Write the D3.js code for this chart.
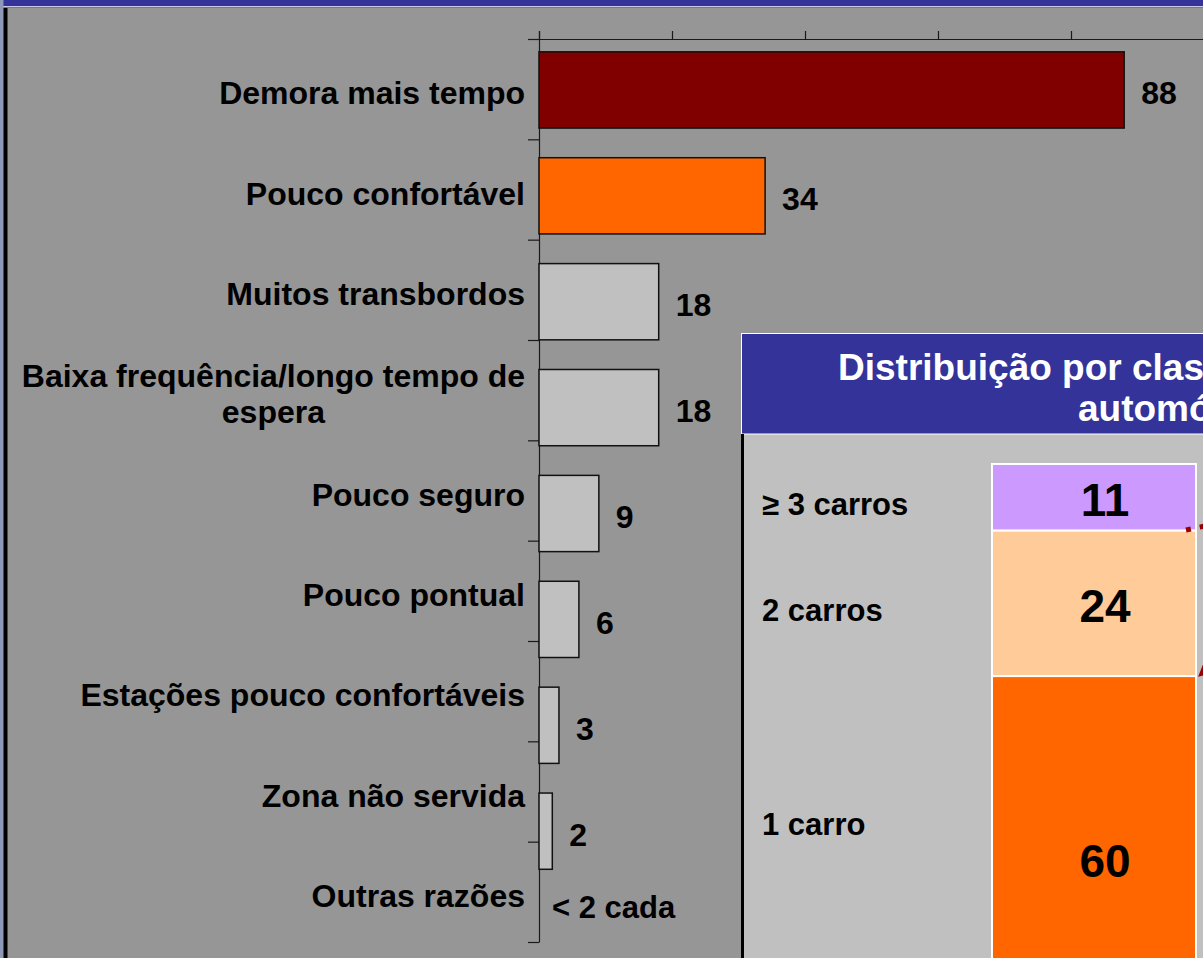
<!DOCTYPE html>
<html><head><meta charset="utf-8">
<script src="https://cdn.jsdelivr.net/npm/d3@7"></script>
<style>html,body{margin:0;padding:0;background:#969696;overflow:hidden} svg{display:block}</style>
</head><body><svg id="c" width="1203" height="958"></svg>
<script>
// ---- data ----
const categories = ["Demora mais tempo","Pouco confortável","Muitos transbordos","Baixa frequência/longo tempo de\nespera","Pouco seguro","Pouco pontual","Estações pouco confortáveis","Zona não servida","Outras razões"];
const values = [88,34,18,18,9,6,3,2,null];
const otherNote = "< 2 cada";
const barColors = ["#800000","#ff6600","#c0c0c0","#c0c0c0","#c0c0c0","#c0c0c0","#c0c0c0","#c0c0c0","#c0c0c0"];
const xTicks = [0,20,40,60,80,100];
const insetTitle = ["Distribuição por classe de posse de","automóvel"];
const carClasses = ["≥ 3 carros","2 carros","1 carro"];
const carShares = [11,24,60];
const carColors = ["#cc99ff","#ffcc99","#ff6600"];

const W = 1203, H = 958;
const FONT = "'Liberation Sans', Arial, Helvetica, sans-serif";
const svg = d3.select("#c");

// background frame
svg.append("rect").attr("x",0).attr("y",0).attr("width",W).attr("height",H).attr("fill","#969696");
svg.append("rect").attr("x",0).attr("y",0).attr("width",W).attr("height",6).attr("fill","#333399");
svg.append("line").attr("x1",0).attr("x2",W).attr("y1",6.5).attr("y2",6.5).attr("stroke","#c9cbe6").attr("stroke-width",1);
svg.append("line").attr("x1",0).attr("x2",W).attr("y1",7.5).attr("y2",7.5).attr("stroke","#7a7a7a").attr("stroke-width",1);
svg.append("rect").attr("x",0).attr("y",0).attr("width",3.5).attr("height",H).attr("fill","#8e99b8");
svg.append("rect").attr("x",3.5).attr("y",8).attr("width",4).attr("height",H-8).attr("fill","#000");

// ---- scales ----
const x = d3.scaleLinear().domain([0,100]).range([539,1204]);
const yLab = d3.scaleBand().domain(categories).range([39,942]);
const yBar = d3.scaleBand().domain(categories).range([37,990]).paddingInner(0.28).paddingOuter(0.14);
const yTick = d3.scaleLinear().domain([0,categories.length]).range([39,942]);

// axes
const gx = svg.append("g").attr("transform","translate(0,39)")
  .call(d3.axisTop(x).tickValues(xTicks).tickSize(8).tickFormat(""));
const gy = svg.append("g").attr("transform","translate(539,0)")
  .call(d3.axisLeft(yTick).tickValues(d3.range(categories.length+1)).tickSize(11).tickSizeOuter(0).tickFormat(""));
[gx,gy].forEach(g=>{ g.selectAll("path,line").attr("stroke","#1a1a1a").attr("stroke-width",1.2); g.select(".domain").attr("fill","none"); });

// bars
const data = categories.map((c,i)=>({c, v: values[i], color: barColors[i]}));
svg.append("g").selectAll("rect").data(data.filter(d=>d.v!=null)).join("rect")
  .attr("x", x(0)).attr("y", d=>yBar(d.c))
  .attr("width", d=>x(d.v)-x(0)).attr("height", yBar.bandwidth())
  .attr("fill", d=>d.color).attr("stroke","#111").attr("stroke-width",1.5);

// value labels
svg.append("g").selectAll("text").data(data.filter(d=>d.v!=null)).join("text")
  .attr("x", d=>x(d.v)+17).attr("y", d=>yBar(d.c)+yBar.bandwidth()/2+14.5)
  .attr("font-family",FONT).attr("font-weight","bold").attr("font-size",32).attr("fill","#000")
  .text(d=>d.v);
data.filter(d=>d.v==null).forEach(d=>{
  svg.append("text").attr("x", x(0)+13).attr("y", yLab(d.c)+yLab.bandwidth()/2+26)
    .attr("font-family",FONT).attr("font-weight","bold").attr("font-size",31).attr("fill","#000")
    .text(otherNote);
});

// category labels
const RIGHT = 525;
categories.forEach(c=>{
  const lines = c.split("\n");
  const bc = yLab(c)+yLab.bandwidth()/2;
  const t = svg.append("text").attr("font-family",FONT).attr("font-weight","bold").attr("font-size",32).attr("fill","#000");
  const spans = lines.map((l,i)=> t.append("tspan").attr("y", bc+15+(i-(lines.length-1)/2)*36).text(l));
  if (lines.length>1){
    const maxW = d3.max(spans, s=>s.node().getComputedTextLength());
    t.attr("text-anchor","middle");
    spans.forEach(s=>s.attr("x", RIGHT-maxW/2));
  } else {
    t.attr("text-anchor","end");
    spans.forEach(s=>s.attr("x", RIGHT));
  }
});

// ---- inset panel ----
const inset = svg.append("g");
inset.append("rect").attr("x",742).attr("y",434).attr("width",600).attr("height",600).attr("fill","#c0c0c0");
inset.append("rect").attr("x",741.5).attr("y",333.5).attr("width",600).attr("height",100.5).attr("fill","#333399").attr("stroke","#fff").attr("stroke-width",1);
inset.append("line").attr("x1",742.5).attr("x2",742.5).attr("y1",434).attr("y2",H).attr("stroke","#000").attr("stroke-width",3);
const titleX = [838,1078];
insetTitle.forEach((l,i)=>{
  inset.append("text").attr("x",titleX[i]).attr("y",380+i*41)
    .attr("font-family",FONT).attr("font-weight","bold").attr("font-size",37).attr("fill","#fff").text(l);
});

const yc = d3.scaleLinear().domain([0,100]).range([464,1070]);
const ends = d3.cumsum(carShares);
const segs = carShares.map((v,i)=>({name: carClasses[i], v, y0: ends[i]-v, y1: ends[i], color: carColors[i]}));
inset.append("g").selectAll("rect").data(segs).join("rect")
  .attr("x",992).attr("width",204)
  .attr("y", d=>yc(d.y0)).attr("height", d=>yc(d.y1)-yc(d.y0))
  .attr("fill", d=>d.color).attr("stroke","#fff").attr("stroke-width",2);
inset.append("g").selectAll("text").data(segs).join("text")
  .attr("x",1105).attr("y", d=>(yc(d.y0)+yc(d.y1))/2+19)
  .attr("text-anchor","middle").attr("font-family",FONT).attr("font-weight","bold").attr("font-size",46).attr("fill","#000")
  .text(d=>d.v);
inset.append("g").selectAll("text").data(segs).join("text")
  .attr("x",762).attr("y", d=>(yc(d.y0)+Math.min(yc(d.y1),H))/2+18)
  .attr("font-family",FONT).attr("font-weight","bold").attr("font-size",31).attr("fill","#000")
  .text(d=>d.name);

// dotted connectors (red) leaving the panel
const defs = svg.append("defs");
defs.append("marker").attr("id","ah").attr("viewBox","0 0 10 10").attr("refX",9).attr("refY",5)
  .attr("markerWidth",3).attr("markerHeight",3).attr("orient","auto")
  .append("path").attr("d","M0,0L10,5L0,10Z").attr("fill","#990000");
inset.append("line").attr("x1",1186).attr("y1",530).attr("x2",1262).attr("y2",514)
  .attr("stroke","#990000").attr("stroke-width",5).attr("stroke-dasharray","5,9");
inset.append("line").attr("x1",1250).attr("y1",630).attr("x2",1199).attr("y2",676)
  .attr("stroke","#990000").attr("stroke-width",4).attr("stroke-dasharray","5,9").attr("marker-end","url(#ah)");
</script></body></html>
